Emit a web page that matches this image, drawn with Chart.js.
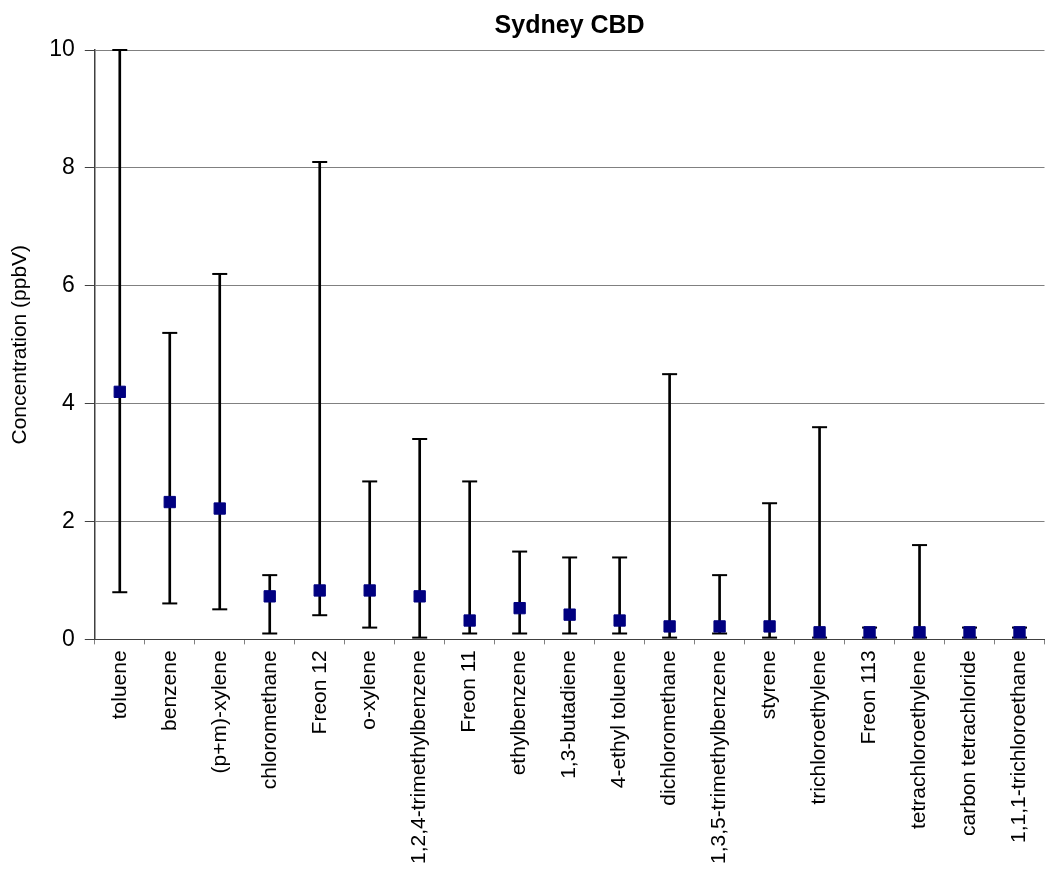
<!DOCTYPE html>
<html>
	<head>
		<title>Sydney CBD</title>
		<style type="text/css">
			body{
				margin: 0;
				background: #ffffff;
			}
			#chart-container{
				width: 1054px;
				height: 874px;
			}
		</style>
	</head>
	<body>
		<script type="text/javascript" src="https://cdn.jsdelivr.net/npm/chart.js@4.4.1/dist/chart.umd.min.js"></script>

		<div id="chart-container">
			<canvas id="mycanvas" width="1054" height="874"></canvas>
		</div>

		<script type="text/javascript">
			// compounds, in the order shown on the x axis
			var compounds=['toluene','benzene','(p+m)-xylene','chloromethane','Freon 12','o-xylene',
				'1,2,4-trimethylbenzene','Freon 11','ethylbenzene','1,3-butadiene','4-ethyl toluene',
				'dichloromethane','1,3,5-trimethylbenzene','styrene','trichloroethylene','Freon 113',
				'tetrachloroethylene','carbon tetrachloride','1,1,1-trichloroethane'];

			// mean concentration (the square markers), ppbV
			var meanValues=[4.2,2.33,2.22,0.73,0.83,0.83,0.73,0.32,0.53,0.42,0.32,0.22,0.22,0.22,0.12,0.12,0.12,0.12,0.12];
			// range: lowest and highest readings (the error bars)
			var minValues=[0.8,0.61,0.51,0.1,0.41,0.2,0.03,0.1,0.1,0.1,0.1,0.03,0.1,0.03,0.03,0.03,0.03,0.03,0.03];
			var maxValues=[10,5.2,6.2,1.09,8.1,2.68,3.4,2.68,1.49,1.39,1.39,4.5,1.09,2.31,3.6,0.2,1.6,0.2,0.2];

			var yTicks=[0,2,4,6,8,10];

			var fontFamily='"Liberation Sans", Arial, sans-serif';

			// draws the heading centred over the plot area
			var titlePlugin={
				id:'plotTitle',
				afterDraw:function(chart){
					var ctx=chart.ctx;
					var area=chart.chartArea;
					ctx.save();
					ctx.font='bold 25px '+fontFamily;
					ctx.fillStyle='#000000';
					ctx.textAlign='center';
					ctx.textBaseline='middle';
					ctx.fillText('Sydney CBD',(area.left+area.right)/2,26);
					ctx.restore();
				}
			};

			var stems=minValues.map(function(lo,i){ return [lo,maxValues[i]]; });

			var chartdata={
				labels:compounds,
				datasets:[
					{
						type:'line',
						label:'mean',
						data:meanValues,
						showLine:false,
						pointStyle:'rect',
						pointRadius:8,
						pointBackgroundColor:'#000080',
						pointBorderColor:'#000080',
						pointBorderWidth:1,
						order:0,
						clip:false
					},
					{
						type:'line',
						label:'max',
						data:maxValues,
						showLine:false,
						pointStyle:'line',
						pointRadius:7.5,
						pointBorderColor:'#000000',
						pointBorderWidth:2,
						order:1,
						clip:false
					},
					{
						type:'line',
						label:'min',
						data:minValues,
						showLine:false,
						pointStyle:'line',
						pointRadius:7.5,
						pointBorderColor:'#000000',
						pointBorderWidth:2,
						order:1,
						clip:false
					},
					{
						type:'bar',
						label:'range',
						data:stems,
						backgroundColor:'#000000',
						borderWidth:0,
						barThickness:2,
						order:2
					}
				]
			};

			var ctx=document.getElementById('mycanvas');

			var errorGraph=new Chart(ctx,{
				type:'bar',
				data:chartdata,
				plugins:[titlePlugin],
				options:{
					responsive:false,
					animation:false,
					layout:{
						padding:{top:50,right:7,left:8,bottom:4}
					},
					plugins:{
						legend:{display:false},
						tooltip:{enabled:false},
						title:{display:false}
					},
					scales:{
						x:{
							offset:true,
							grid:{
								offset:true,
								drawOnChartArea:false,
								drawTicks:true,
								tickLength:5,
								tickColor:'#808080'
							},
							border:{color:'#404040',width:1},
							ticks:{
								autoSkip:false,
								maxRotation:90,
								minRotation:90,
								padding:6,
								color:'#000000',
								font:{family:fontFamily,size:21}
							}
						},
						y:{
							min:0,
							max:10,
							afterBuildTicks:function(axis){
								axis.ticks=yTicks.map(function(v){ return {value:v}; });
							},
							grid:{
								color:'#808080',
								lineWidth:1,
								drawTicks:true,
								tickLength:10,
								tickColor:'#404040'
							},
							border:{color:'#404040',width:1.5},
							ticks:{
								padding:10,
								color:'#000000',
								font:{family:fontFamily,size:23}
							},
							title:{
								display:true,
								text:'Concentration (ppbV)',
								color:'#000000',
								font:{family:fontFamily,size:21},
								padding:{top:0,bottom:6}
							}
						}
					}
				}
			});
		</script>
	</body>
</html>
